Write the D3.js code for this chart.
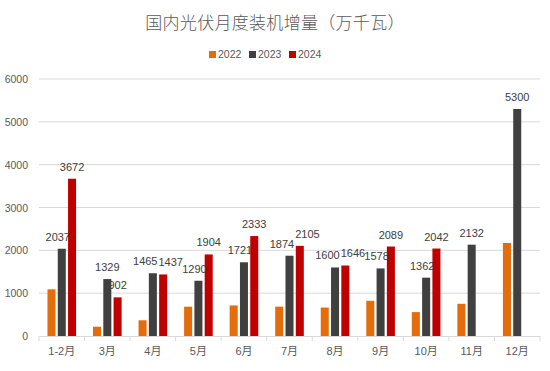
<!DOCTYPE html>
<html>
<head>
<meta charset="utf-8">
<script src="https://cdn.jsdelivr.net/npm/d3@7"></script>
<style>
  body { margin: 0; background: #fff; }
  svg { display: block; font-family: "Noto Sans CJK SC", "Noto Sans", sans-serif; }
</style>
</head>
<body>
<div id="chart"></div>
<script>
// monthly additions, 10MW units; 2024 has no Nov/Dec yet
var months = ["1-2月", "3月", "4月", "5月", "6月", "7月", "8月", "9月", "10月", "11月", "12月"];
var years = ["2022", "2023", "2024"];
var v2022 = [1090, 217, 367, 685, 713, 685, 664, 822, 558, 752, 2172];
var v2023 = [2037, 1329, 1465, 1290, 1721, 1874, 1600, 1578, 1362, 2132, 5300];
var v2024 = [3672, 902, 1437, 1904, 2333, 2105, 1646, 2089, 2042, null, null];
var yTicks = [0, 1000, 2000, 3000, 4000, 5000, 6000];
var colors = ["#E46C0A", "#404040", "#C00000"];

var width = 550, height = 371;
var margin = { top: 79, right: 10, bottom: 35, left: 39 };
var numFont = "'Liberation Sans', Arimo, sans-serif";

var svg = d3.select("#chart").append("svg")
  .attr("width", width).attr("height", height);

var series = [v2022, v2023, v2024];

var x = d3.scaleBand().domain(months).range([margin.left, width - margin.right]);
var half = x.bandwidth() / 2;
var xi = d3.scaleBand().domain(years).range([half - 14.3, half + 14.3]).paddingInner(0.22);
var y = d3.scaleLinear().domain([0, 6000]).range([height - margin.bottom, margin.top]);

// title
svg.append("text")
  .attr("x", width / 2).attr("y", 29)
  .attr("text-anchor", "middle")
  .attr("fill", "#595959")
  .attr("font-size", 17)
  .attr("font-weight", 300)
  .attr("letter-spacing", 0.3)
  .text("国内光伏月度装机增量（万千瓦）");

// legend
var legend = svg.append("g").attr("transform", "translate(209,58)");
var lg = legend.selectAll("g").data(years).join("g")
  .attr("transform", function (d, i) { return "translate(" + (i * 40) + ",0)"; });
lg.append("rect").attr("x", 0).attr("y", -7).attr("width", 7).attr("height", 7)
  .attr("fill", function (d, i) { return colors[i]; });
lg.append("text").attr("x", 9).attr("y", 0)
  .attr("font-size", 10.5).attr("fill", "#595959")
  .attr("font-family", numFont)
  .text(function (d) { return d; });

// gridlines + y labels
svg.append("g").selectAll("line").data(yTicks.slice(1)).join("line")
  .attr("x1", margin.left).attr("x2", width - margin.right)
  .attr("y1", function (d) { return y(d); }).attr("y2", function (d) { return y(d); })
  .attr("stroke", "#d9d9d9").attr("stroke-width", 1);

svg.append("g").selectAll("text").data(yTicks).join("text")
  .attr("x", 28).attr("y", function (d) { return y(d) + 4; })
  .attr("text-anchor", "end")
  .attr("font-size", 10.5).attr("fill", "#595959")
  .attr("font-family", numFont)
  .text(function (d) { return d; });

// x axis
var xAxis = d3.axisBottom(x).tickSize(0).tickPadding(11);
var gx = svg.append("g")
  .attr("transform", "translate(0," + y(0) + ")")
  .call(xAxis);
gx.select(".domain").attr("stroke", "#d9d9d9");
gx.selectAll("text").attr("font-size", 11).attr("fill", "#595959")
  .attr("font-family", "'Liberation Sans', 'Noto Sans CJK SC', sans-serif");
svg.append("g").selectAll("line").data(months.concat([""])).join("line")
  .attr("x1", function (d, i) { return margin.left + i * x.step(); })
  .attr("x2", function (d, i) { return margin.left + i * x.step(); })
  .attr("y1", y(0)).attr("y2", y(0) + 5)
  .attr("stroke", "#d9d9d9");

// bars
var rows = [];
months.forEach(function (m, mi) {
  series.forEach(function (s, si) {
    if (s[mi] != null) rows.push({ m: m, mi: mi, yr: years[si], v: s[mi], c: colors[si], si: si });
  });
});

svg.append("g").selectAll("rect").data(rows).join("rect")
  .attr("x", function (d) { return x(d.m) + xi(d.yr); })
  .attr("width", xi.bandwidth())
  .attr("y", function (d) { return y(d.v); })
  .attr("height", function (d) { return y(0) - y(d.v); })
  .attr("fill", function (d) { return d.c; });

// data labels for 2023 and 2024
var labelRows = rows.filter(function (d) { return d.si > 0; });
var labels = svg.append("g").selectAll("text").data(labelRows).join("text")
  .attr("x", function (d) { return x(d.m) + xi(d.yr) + xi.bandwidth() / 2; })
  .attr("y", function (d) { return y(d.v) - 8; })
  .attr("text-anchor", "middle")
  .attr("font-size", 11).attr("fill", "#404040")
  .attr("font-family", numFont)
  .text(function (d) { return d.v; });

// nudge 2023/2024 labels apart when they collide, like the spreadsheet does
labels.each(function (d) { d.w = this.getComputedTextLength(); d.cx = +d3.select(this).attr("x"); d.ty = y(d.v) - 8; });
months.forEach(function (m, mi) {
  var a = labelRows.find(function (d) { return d.mi === mi && d.si === 1; });
  var b = labelRows.find(function (d) { return d.mi === mi && d.si === 2; });
  if (!a || !b) return;
  var vOverlap = Math.abs(a.ty - b.ty) < 12;
  var hOverlap = (a.cx + a.w / 2) - (b.cx - b.w / 2) + 1;
  if (vOverlap && hOverlap > 0) {
    a.cx -= hOverlap / 2;
    b.cx += hOverlap / 2;
  } else if (b.v > a.v && y(b.v) < a.ty) {
    // the taller red bar sits under the dark bar's label: shift it left a bit
    a.cx -= 4;
  }
});
labels.attr("x", function (d) { return d.cx; });
</script>
</body>
</html>
